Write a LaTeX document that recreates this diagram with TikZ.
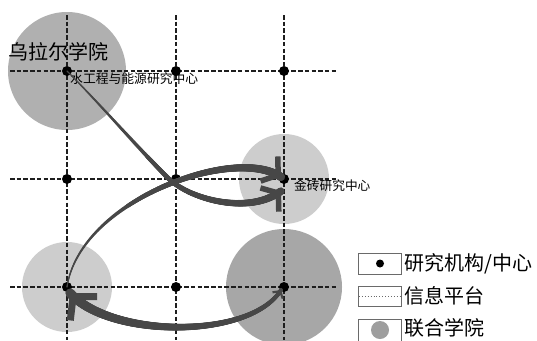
\documentclass[tikz,border=0pt]{standalone}
\usepackage{fontspec}
\newfontfamily\cjk{Noto Sans CJK SC}
\usetikzlibrary{arrows.meta,decorations.markings}
\definecolor{circdark}{HTML}{B0B0B0}
\definecolor{circlight}{HTML}{CDCDCD}
\definecolor{curvecol}{HTML}{474747}
\definecolor{gridcol}{HTML}{1E1E1E}
\definecolor{boxcol}{HTML}{6A6A6A}
\tikzset{
  gridline/.style={gridcol, line width=2pt, dash pattern=on 4.5pt off 2.2pt},
  dotnode/.style={circle, fill=black, inner sep=0pt, minimum size=10pt},
  curve/.style={curvecol, line width=1pt},
  taper/.style 2 args={postaction={decorate, decoration={markings,
    mark=between positions 0 and 1 step 0.5pt with {%
      \pgfmathsetmacro\tdist{\pgfkeysvalueof{/pgf/decoration/mark info/distance from start}}%
      \pgfmathsetmacro\trad{#1+(#2-#1)*\tdist/\pgfdecoratedpathlength}%
      \fill[curvecol] (0,0) circle (\trad pt);}}}},
  lbl/.style={font=\cjk, anchor=west, inner sep=0pt, text=black},
  legbox/.style={draw=boxcol, line width=1pt, fill=white}
}
\begin{document}
\begin{tikzpicture}[x=1pt, y=-1pt]
\useasboundingbox[fill=white] (0,0) rectangle (537,340);
% grid points
\coordinate (p11) at (67,71);  \coordinate (p21) at (176,71);  \coordinate (p31) at (284,71);
\coordinate (p12) at (67,179); \coordinate (p22) at (176,179); \coordinate (p32) at (284,179);
\coordinate (p13) at (67,287); \coordinate (p23) at (176,287); \coordinate (p33) at (284,287);
% joint-college circles
\fill[circdark]  (p11) circle (59);
\fill[circlight] (284,179) circle (45);
\fill[circlight] (p13) circle (45);
\fill[circdark!95!black] (p33) circle (58);
% information platform grid
\foreach \x in {67,176,284} \draw[gridline] (\x,15) -- (\x,340);
\foreach \y in {71,179,287} \draw[gridline] (10,\y) -- (337,\y);
% research institutes
\foreach \n in {11,21,31,12,22,32,13,23,33} \node[dotnode] (d\n) at (p\n) {};
% labels
\node[lbl] (t1) at (8,52) {\fontsize{20pt}{20pt}\selectfont 乌拉尔学院};
\node[lbl] (t2) at (70,79) {\fontsize{12.8pt}{13pt}\selectfont 水工程与能源研究中心};
\node[lbl] (t3) at (294,186) {\fontsize{12.7pt}{13pt}\selectfont 金砖研究中心};
% connectors
\coordinate (tipA) at (281,191);
\coordinate (tipB) at (281,177);
\coordinate (tipCr) at (281,290);
\coordinate (tipCl) at (70,293);
\draw[curve, taper={0.6}{3.8}, -{Straight Barb[length=11pt,width=30pt,line width=5.5pt]}]
  (d11.center) .. controls (100,104) and (138,148) .. (168,178)
  .. controls (190,200) and (250,215) .. (tipA);
\draw[curve, taper={0.6}{4.2}, -{Straight Barb[length=11pt,width=30pt,line width=5.5pt]}]
  (d13.center) .. controls (80,200) and (235,145) .. (tipB);
\draw[curve, taper={2}{4.8}, {Straight Barb[length=5pt,width=12pt,line width=2.2pt]}-{Straight Barb[length=16pt,width=36pt,line width=7pt]}]
  (tipCr) .. controls (250,340) and (110,338) .. (tipCl);
% legend
\draw[legbox] (358,253) rectangle (401,274);
\fill[black] (380,263.5) circle (4);
\draw[legbox] (358,286) rectangle (401,306);
\draw[boxcol, line width=0.9pt, dotted] (359,296) -- (400,296);
\draw[legbox] (358,319) rectangle (401,345);
\fill[circdark!90!black] (380,330) circle (9);
\node[lbl] (l1) at (404,263.5) {\fontsize{20pt}{20pt}\selectfont 研究机构/中心};
\node[lbl] (l2) at (404,296) {\fontsize{20pt}{20pt}\selectfont 信息平台};
\node[lbl] (l3) at (404,328) {\fontsize{20pt}{20pt}\selectfont 联合学院};
\end{tikzpicture}
\end{document}
